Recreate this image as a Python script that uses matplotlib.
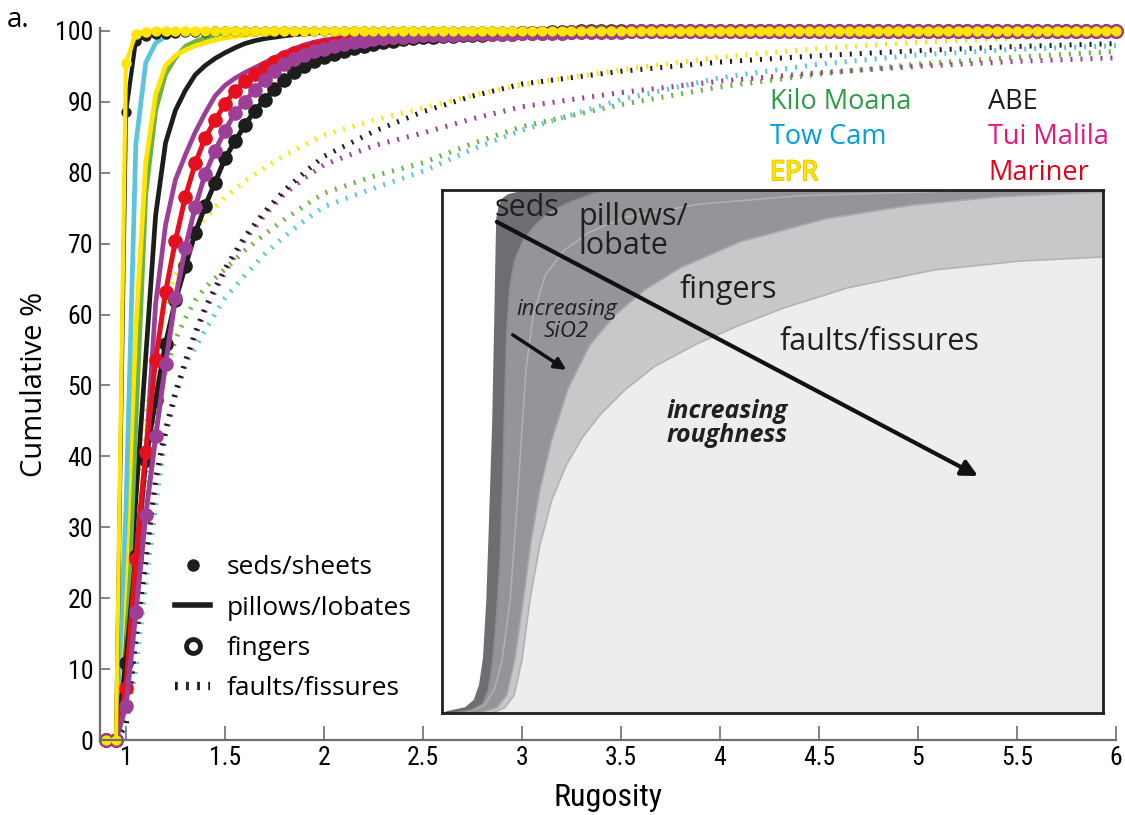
import matplotlib.pyplot as plt
import matplotlib.patheffects as pe
from matplotlib.lines import Line2D
import numpy as np

# rugosity bins (0.05 wide) used for the marker curves
rug = np.round(np.arange(0.9, 6.0001, 0.05), 2)

def full(vals):
    # curves sit on 100 % once they have levelled off
    return np.array(list(vals) + [100.0] * (len(rug) - len(vals)))

# seds/sheets
epr_seds = full([0, 0, 95.5, 99.6, 99.9])
abe_seds = full([0, 0, 88.5, 98.6, 99.3, 99.5, 99.6, 99.7, 99.8, 99.85, 99.9, 99.95])

# pillows/lobates
towcam_pil = full([0, 0, 32.5, 84, 95.5, 98.3, 99.2, 99.6, 99.8, 99.9, 99.95])
epr_pil = full([0, 0, 24, 58, 81.4, 91, 95.1, 96.5, 97.3, 97.9, 98.3, 98.7, 99.0,
                99.2, 99.4, 99.55, 99.7, 99.8, 99.9, 99.95])
kilo_pil = full([0, 0, 10.4, 44.6, 77, 88.8, 93.9, 96.2, 97.8, 98.5, 99.0, 99.4,
                 99.7, 99.8, 99.9, 99.95])
abe_pil = full([0, 0, 14, 34, 54, 74, 84.2, 88.8, 91.6, 93.8, 95.1, 96.1, 96.9,
                97.6, 98.2, 98.6, 98.9, 99.1, 99.3, 99.45, 99.6, 99.7, 99.8, 99.85,
                99.9, 99.95])
tui_pil = full([0, 0, 8, 22, 40, 61.5, 72.6, 79, 82.5, 85.7, 88.4, 90.8, 92.3,
                93.3, 94.1, 94.8, 95.5, 96.2, 96.9, 97.5, 98.0, 98.4, 98.7, 98.9,
                99.1, 99.25, 99.4, 99.5, 99.6, 99.65, 99.7, 99.75, 99.8, 99.85,
                99.9, 99.95])

# fingers
abe_fin = full([0, 0, 10.8, 26, 39.5, 48, 55.9, 62.0, 66.8, 71.5, 75.3, 78.6, 82.0,
                84.4, 86.7, 88.7, 90.3, 91.8, 93.1, 94.2, 95.0, 95.7, 96.3, 96.8,
                97.2, 97.6, 97.9, 98.2, 98.4, 98.6, 98.8, 98.95, 99.1, 99.2, 99.25,
                99.3, 99.35, 99.4, 99.45, 99.5, 99.55, 99.6, 99.65, 99.7, 99.75,
                99.8, 99.85, 99.9])
mariner_fin = full([0, 0, 7.4, 25.5, 40.6, 53.6, 63.2, 70.4, 76.6, 81.3, 84.9, 87.4,
                    89.7, 91.5, 92.9, 93.9, 94.8, 95.6, 96.3, 96.9, 97.3, 97.7, 98.0,
                    98.3, 98.5, 98.7, 98.85, 98.95, 99.0, 99.1, 99.2, 99.3, 99.4,
                    99.42, 99.45, 99.47, 99.5, 99.52, 99.55, 99.57, 99.6, 99.62,
                    99.65, 99.68, 99.7, 99.72, 99.75, 99.78, 99.8, 99.82, 99.85,
                    99.87, 99.9, 99.92, 99.95])
tui_fin = full([0, 0, 4.8, 18.0, 31.7, 42.8, 53.0, 62.3, 69.4, 75.2, 79.8, 83.1, 85.9,
                88.4, 90.0, 91.7, 93.1, 94.3, 95.3, 96.0, 96.6, 97.1, 97.5, 97.9,
                98.2, 98.4, 98.6, 98.8, 99.0, 99.1, 99.2, 99.3, 99.4, 99.42, 99.45,
                99.47, 99.5, 99.52, 99.55, 99.57, 99.6, 99.62, 99.65, 99.68, 99.7,
                99.72, 99.75, 99.78, 99.8, 99.82, 99.85, 99.87, 99.9, 99.92, 99.95])

# faults/fissures, read on a coarser grid
fx = [0.9, 0.95, 1.0, 1.05, 1.1, 1.15, 1.2, 1.25, 1.3, 1.35, 1.4, 1.5, 1.6, 1.7, 1.8,
      1.9, 2.0, 2.25, 2.5, 2.75, 3.0, 3.5, 4.0, 4.5, 5.0, 5.5, 6.0]
epr_flt = [0, 0, 14, 33, 46, 55, 61, 65.5, 69, 71.5, 73.6, 76.5, 78.8, 80.7, 82.4,
           83.9, 85.3, 87.4, 89.1, 90.9, 92.4, 94.5, 96.3, 97.5, 98.4, 99.0, 99.5]
abe_flt = [0, 0, 2, 14, 25, 37, 44, 49, 53.5, 57.5, 61, 66.5, 71, 74.5, 77.5, 80,
           82.3, 85.8, 88.6, 90.8, 92.5, 94.3, 95.6, 96.5, 97.2, 97.8, 98.2]
tui_flt = [0, 0, 2, 14, 26, 36, 43, 48.5, 53, 57, 60.5, 66, 70.5, 74, 77, 79.2, 81.1,
           83.8, 85.6, 87.6, 89.3, 91.3, 92.9, 94.1, 95.0, 95.7, 96.2]
kilo_flt = [0, 0, 4, 20, 36, 46, 52, 56.5, 59.5, 62, 63.8, 66.4, 69.0, 71.3, 73.4,
            75.3, 77.1, 79.5, 81.4, 84.1, 86.5, 89.6, 92.1, 93.9, 95.3, 96.3, 97.1]
towcam_flt = [0, 0, 2, 10, 22, 33, 43, 49.5, 53, 55.3, 57.8, 62.3, 65.5, 68.5, 71.0,
              73.2, 75.2, 77.8, 80.2, 83.3, 86.0, 90.3, 93.4, 95.3, 96.6, 97.4, 97.9]

# schematic inset boundaries (x, y in 0-100 box units), bottom to top/right
b_seds_left = [(0, 0), (0.9, 0.4), (3.5, 1.1), (4.8, 2.5), (5.6, 5.4), (6.2, 10.5),
               (6.7, 21.6), (7.1, 36.3), (7.6, 56.0), (7.9, 75.1), (8.1, 88.5),
               (8.2, 94.5), (8.6, 97.1), (9.1, 98.4), (10.0, 99.2), (11.3, 99.6),
               (13.3, 100)]
b_seds_right = [(2.0, 0), (4.5, 0.6), (6.1, 1.7), (7.0, 4.4), (7.6, 9.2), (8.2, 17.8),
                (8.8, 29.3), (9.2, 44.6), (9.5, 59.8), (9.8, 73.2), (10.3, 81.8),
                (11.0, 86.6), (12.3, 90.4), (14.1, 93.3), (16.3, 95.8), (19.4, 97.7),
                (23.0, 99.4), (25.4, 100)]
b_pillow_inner = [(3.6, 0), (6.4, 1.5), (7.9, 4.4), (9.1, 10.1), (10.3, 21.6),
                  (11.2, 36.9), (12.0, 52.2), (12.7, 65.6), (13.8, 76.1), (15.6, 83.7),
                  (18.5, 88.5), (22.4, 92.0), (27.7, 94.8), (39.0, 97.3), (54.2, 98.9),
                  (76.9, 99.8)]
b_pillows = [(5.7, 0), (8.3, 1.0), (9.8, 3.4), (11.0, 10.1), (12.3, 21.6), (13.5, 33.1),
             (14.8, 42.6), (16.6, 52.2), (19.1, 62.1), (22.4, 70.4), (26.2, 76.1),
             (30.7, 80.9), (36.0, 85.1), (45.1, 90.1), (58.1, 94.5), (71.1, 97.1),
             (84.1, 98.7), (100, 99.6)]
b_fingers = [(7.6, 0), (9.5, 1.0), (10.9, 3.4), (12.1, 10.1), (13.3, 21.6), (14.8, 32.1),
             (16.6, 40.7), (18.8, 47.4), (21.2, 52.6), (23.9, 57.0), (27.7, 61.8),
             (32.2, 66.3), (38.6, 70.6), (45.1, 74.2), (51.6, 77.4), (61.4, 81.3),
             (74.4, 84.7), (87.3, 86.4), (100, 87.2)]

GREEN, CYAN, YELLOW = '#6cb33f', '#5bc5de', '#ffe500'
BLACK, PURPLE, RED = '#1d1d1b', '#9e3f97', '#e5101f'

narrow = ['Roboto Condensed', 'Open Sans Condensed', 'DejaVu Sans Condensed',
          'Liberation Sans Narrow', 'DejaVu Sans']
plt.rcParams['font.family'] = ['Open Sans', 'DejaVu Sans']

fig = plt.figure(figsize=(11.25, 8.15), dpi=100)
ax = fig.add_axes([100 / 1125, 1 - 740 / 815, 1016 / 1125, 712 / 815])

dots = dict(linestyle=(0, (0.4, 1.6)), lw=3.6, dash_capstyle='butt', clip_on=False)
for y, c in [(towcam_flt, CYAN), (kilo_flt, GREEN), (tui_flt, PURPLE),
             (abe_flt, BLACK), (epr_flt, YELLOW)]:
    ax.plot(fx, y, color=c, **dots)

for y, c in [(tui_pil, PURPLE), (abe_pil, BLACK), (kilo_pil, GREEN),
             (epr_pil, YELLOW), (towcam_pil, CYAN)]:
    ax.plot(rug, y, color=c, lw=3.4, solid_capstyle='round', clip_on=False)

for y, c in [(abe_fin, BLACK), (mariner_fin, RED), (tui_fin, PURPLE)]:
    ax.plot(rug, y, color=c, lw=3.6, marker='o', ms=9.5, mec=c, clip_on=False)

for y, c in [(abe_seds, BLACK), (epr_seds, YELLOW)]:
    ax.plot(rug, y, color=c, lw=3.0, marker='o', ms=6.5, mec=c, clip_on=False)

ax.set_xlim(0.869, 6.0)
ax.set_ylim(0, 100.4)
ax.set_xticks([1, 1.5, 2, 2.5, 3, 3.5, 4, 4.5, 5, 5.5, 6])
ax.set_xticklabels(['1', '1.5', '2', '2.5', '3', '3.5', '4', '4.5', '5', '5.5', '6'])
ax.set_yticks(range(0, 101, 10))
for s in ['top', 'right']:
    ax.spines[s].set_visible(False)
for s in ['left', 'bottom']:
    ax.spines[s].set_color('#6d6e71')
    ax.spines[s].set_linewidth(1.6)
ax.tick_params(axis='x', direction='in', length=10, width=1.2, color='#6d6e71', pad=4)
ax.tick_params(axis='y', direction='in', length=7, width=1.2, color='#6d6e71', pad=5)
for lab in ax.get_xticklabels() + ax.get_yticklabels():
    lab.set_family(narrow)
    lab.set_fontsize(18.5)
ax.set_xlabel('Rugosity', family=narrow, fontsize=23, labelpad=10)
ax.set_ylabel('Cumulative %', fontsize=21, labelpad=4)
fig.text(0.006, 0.975, 'a.', fontsize=20, va='center')

# site names
sites_left = [('Kilo Moana', '#2e9b48'), ('Tow Cam', '#00a0dc'), ('EPR', YELLOW)]
sites_right = [('ABE', BLACK), ('Tui Malila', '#e0187f'), ('Mariner', '#e2001a')]
for i, (name, c) in enumerate(sites_left):
    t = fig.text(770 / 1125, 1 - (102 + 35.5 * i) / 815, name, color=c,
                 fontsize=19.5, va='center')
    if name == 'EPR':
        t.set_path_effects([pe.withStroke(linewidth=1.4, foreground='#e6c700')])
for i, (name, c) in enumerate(sites_right):
    fig.text(988 / 1125, 1 - (102 + 35.5 * i) / 815, name, color=c,
             fontsize=19.5, va='center')

# morphology key
handles = [Line2D([], [], ls='none', marker='o', ms=8, color=BLACK),
           Line2D([], [], lw=4, color=BLACK),
           Line2D([], [], ls='none', marker='o', ms=10, mfc='white', mec=BLACK, mew=3.5),
           Line2D([], [], color=BLACK, lw=6, linestyle=(0, (0.33, 1.0)),
                  dash_capstyle='butt')]
labels = ['seds/sheets', 'pillows/lobates', 'fingers', 'faults/fissures']
ax.legend(handles, labels, loc='center left', bbox_to_anchor=(0.0738, 0.157),
          frameon=False, fontsize=19, handlelength=1.33, handletextpad=0.64,
          labelspacing=0.58, borderpad=0, borderaxespad=0)

# schematic inset
ins = fig.add_axes([442 / 1125, 1 - 713 / 815, 661 / 1125, 523 / 815])
ins.set_xlim(0, 100)
ins.set_ylim(0, 100)
ins.set_xticks([])
ins.set_yticks([])
for s in ins.spines.values():
    s.set_linewidth(2)
    s.set_color('#231f20')

ins.fill([0, 100, 100, 0], [0, 0, 100, 100], color='#ededee', lw=0)
for bnd, c in [(b_fingers, '#c7c8ca'), (b_pillows, '#939598'),
               (b_seds_right, '#6d6e71'), (b_seds_left, 'white')]:
    xs = [p[0] for p in bnd] + [100, 0, 0]
    ys = [p[1] for p in bnd] + [100, 100, 0]
    ins.fill(xs, ys, color=c, lw=0)
for bnd, c in [(b_fingers, '#b1b3b6'), (b_pillows, '#a7a9ac'),
               (b_pillow_inner, '#aeb0b3'), (b_seds_right, '#8a8c8f')]:
    ins.plot([p[0] for p in bnd], [p[1] for p in bnd], color=c, lw=1.2)

ink = '#231f20'
ins.text(7.9, 96.5, 'seds', fontsize=22, color=ink, va='center')
ins.text(20.7, 92.0, 'pillows/\nlobate', fontsize=22, color=ink, va='center',
         linespacing=0.95)
ins.text(35.9, 81.0, 'fingers', fontsize=22, color=ink, va='center')
ins.text(51.0, 71.0, 'faults/fissures', fontsize=22, color=ink, va='center')
ins.text(18.8, 75.0, 'increasing\nSiO2', fontsize=16, style='italic', ha='center',
         va='center', color=ink, linespacing=1.05)
ins.text(34.0, 55.3, 'increasing\nroughness', fontsize=18, style='italic',
         weight='bold', va='center', color=ink, linespacing=0.95)
ins.annotate('', xy=(81.1, 45.3), xytext=(8.3, 93.9),
             arrowprops=dict(arrowstyle='-|>', lw=3, color='#111111',
                             mutation_scale=24, shrinkA=0, shrinkB=0))
ins.annotate('', xy=(18.8, 65.6), xytext=(10.7, 72.3),
             arrowprops=dict(arrowstyle='-|>', lw=2.5, color='#111111',
                             mutation_scale=17, shrinkA=0, shrinkB=0))

fig.savefig('out.png', dpi=100)
